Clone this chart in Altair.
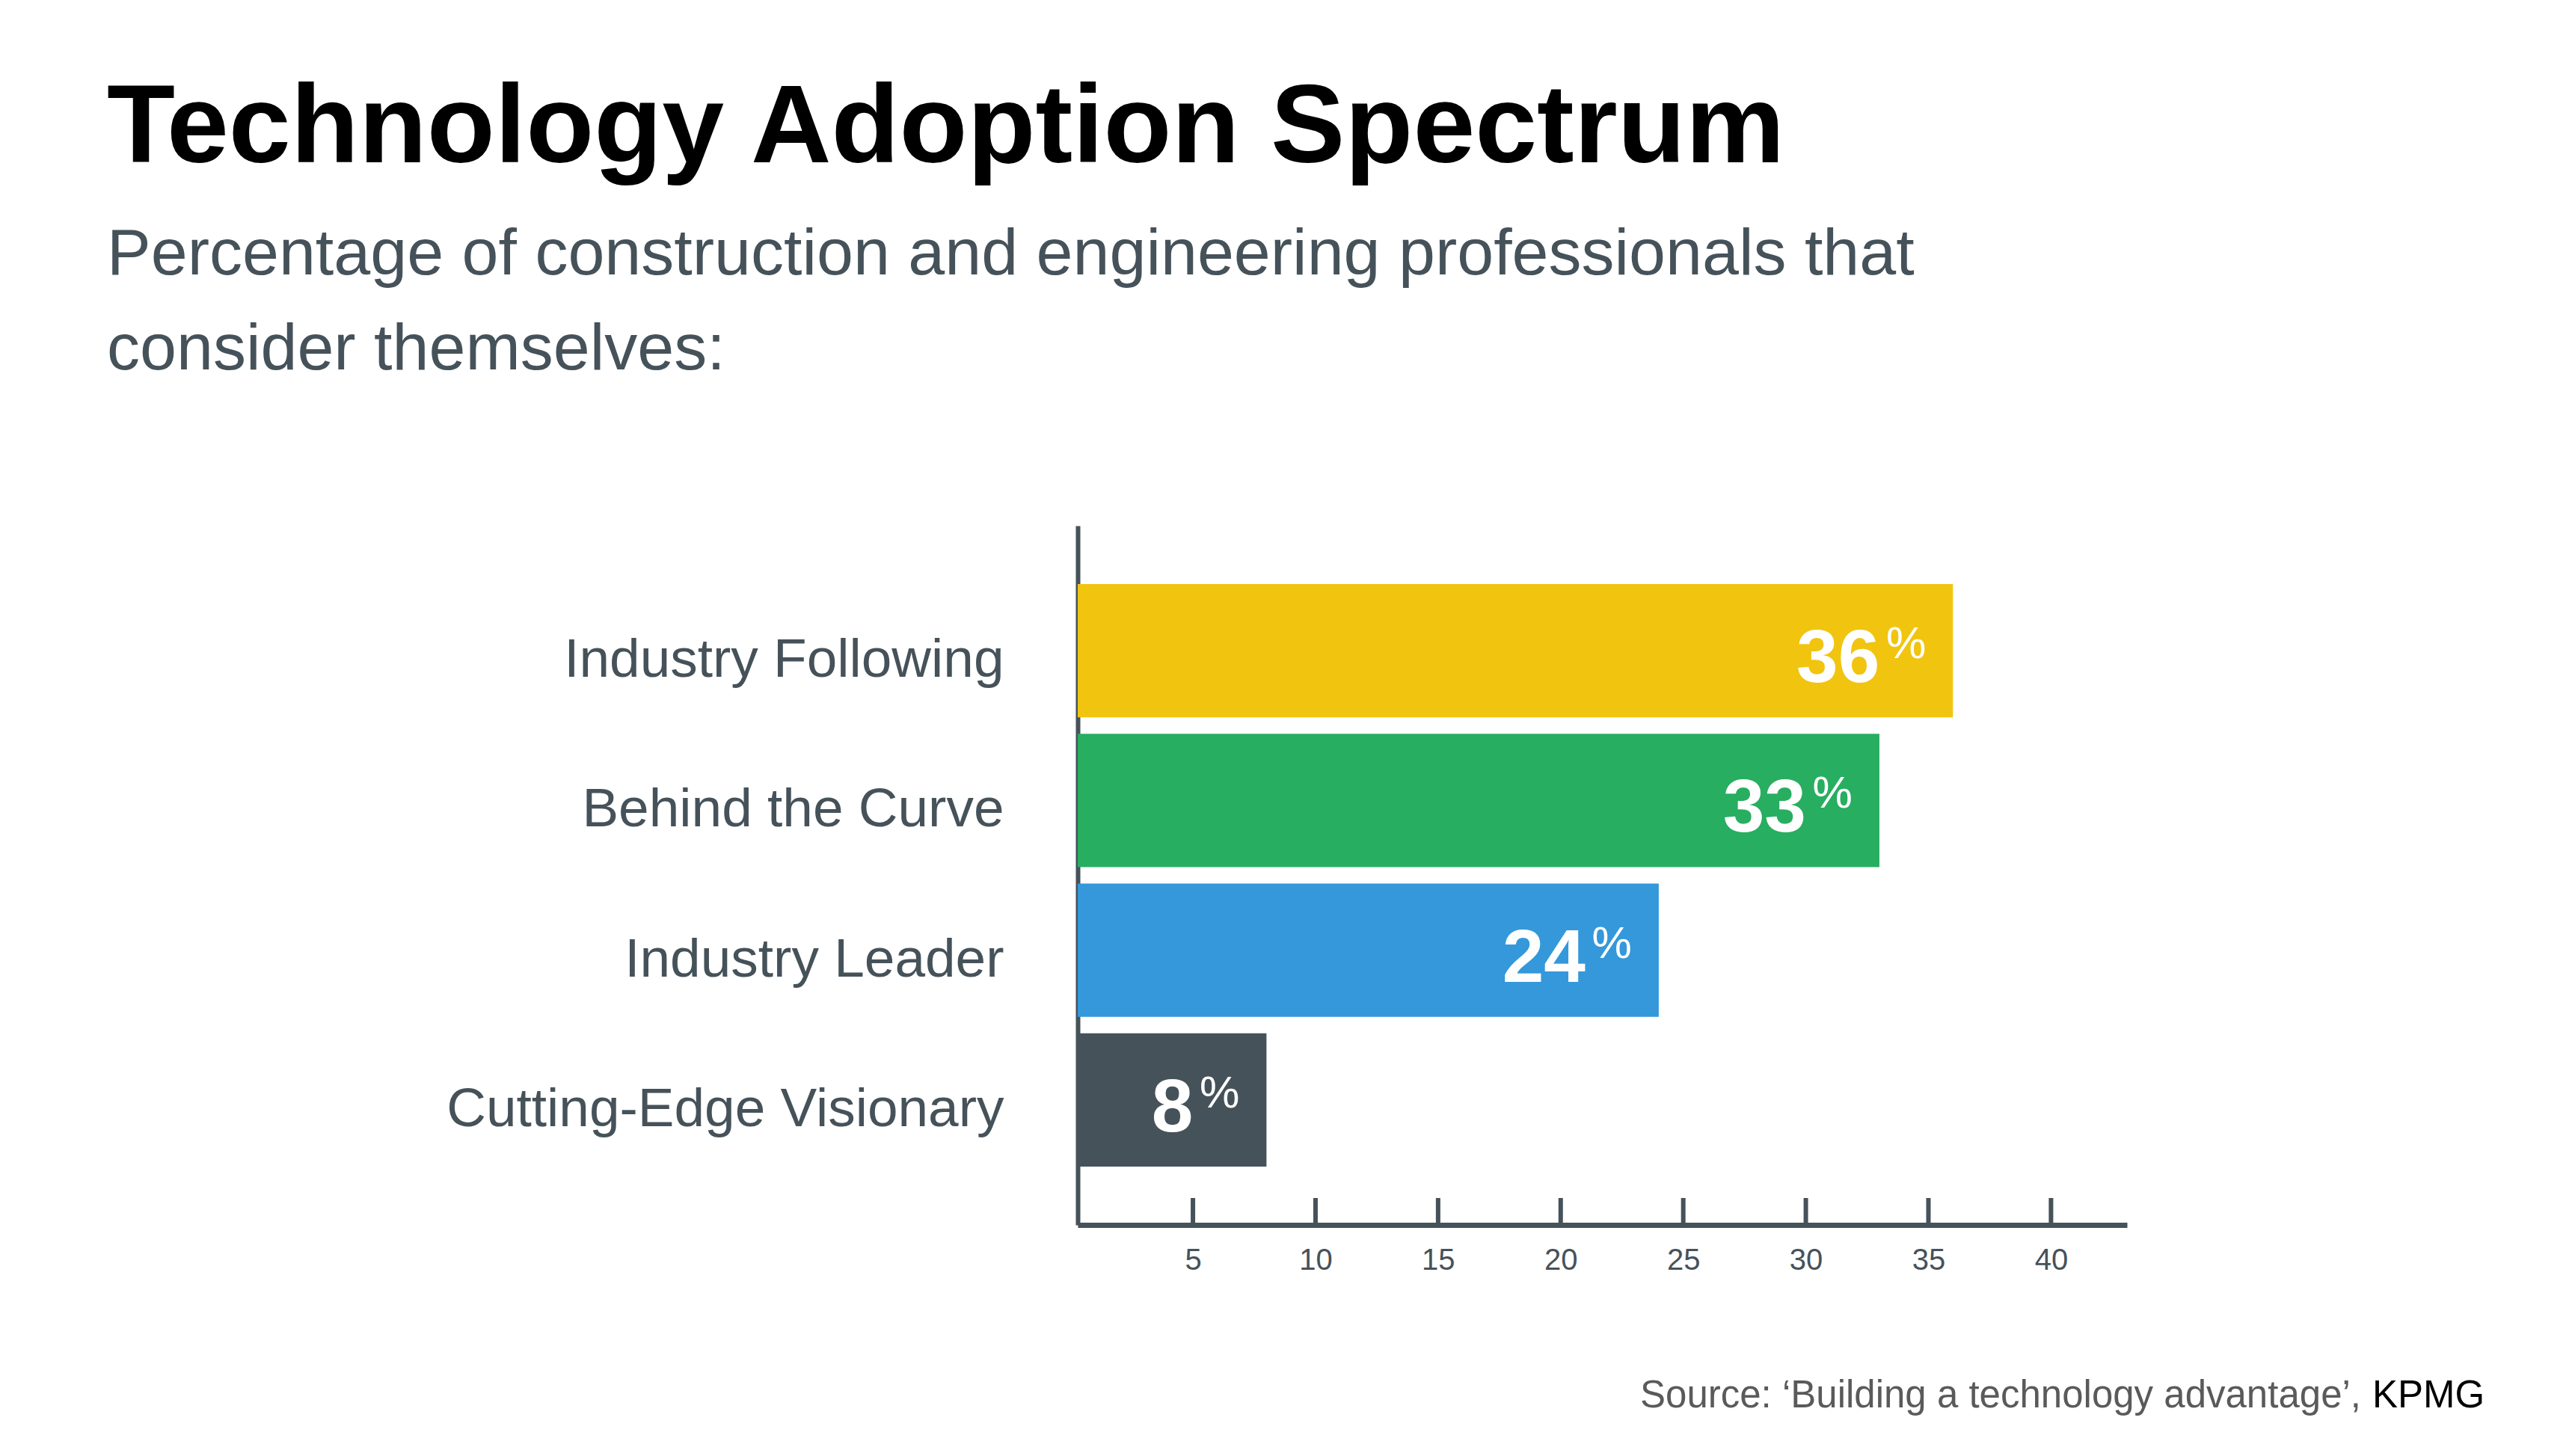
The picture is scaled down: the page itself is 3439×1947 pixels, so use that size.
import altair as alt
import pandas as pd

CATEGORIES = ["Industry Following", "Behind the Curve", "Industry Leader", "Cutting-Edge Visionary"]
VALUES = [36, 33, 24, 8]
COLORS = ["#F1C40F", "#27AE60", "#3498DB", "#46525A"]
TICKS = [5, 10, 15, 20, 25, 30, 35, 40]
TITLE = "Technology Adoption Spectrum"
SUBTITLE = ["Percentage of construction and engineering professionals that", "consider themselves:"]
SOURCE = "Source: \u2018Building a technology advantage\u2019,"
SOURCE_ORG = "KPMG"

df = pd.DataFrame({"category": CATEGORIES, "value": VALUES})
df["label"] = df["value"].astype(str)
df["pct"] = "%"
ticks_df = pd.DataFrame({"value": TICKS})
src_df = pd.DataFrame({"s": [SOURCE], "o": [SOURCE_ORG]})

W, H = 1403, 935
DARK = "#46525A"
FONT = "Liberation Sans"

xscale = alt.Scale(domain=[0.3, 43.1], nice=False, zero=False)
yscale = alt.Scale(paddingInner=0.11, paddingOuter=0.39)

bars = alt.Chart(df).mark_bar(clip=True).encode(
    x=alt.X("value:Q", scale=xscale,
            axis=alt.Axis(title=None, values=TICKS, ticks=False, grid=False,
                          domainColor=DARK, domainWidth=7, labelFont=FONT,
                          labelFontSize=40, labelColor=DARK, labelPadding=27)),
    y=alt.Y("category:N", sort=CATEGORIES, scale=yscale,
            axis=alt.Axis(title=None, ticks=False, domainColor=DARK, domainWidth=6,
                          labelFont=FONT, labelFontSize=73, labelColor=DARK,
                          labelPadding=99, labelLimit=1200, labelOffset=13)),
    color=alt.Color("category:N", scale=alt.Scale(domain=CATEGORIES, range=COLORS), legend=None),
)

nums = alt.Chart(df).mark_text(
    align="right", baseline="alphabetic", dx=-98, dy=42, font=FONT,
    fontSize=100, fontWeight="bold", color="white"
).encode(
    x=alt.X("value:Q", scale=xscale),
    y=alt.Y("category:N", sort=CATEGORIES, scale=yscale),
    text="label:N",
)

pcts = alt.Chart(df).mark_text(
    align="right", baseline="alphabetic", dx=-36, dy=10, font=FONT,
    fontSize=60, color="white"
).encode(
    x=alt.X("value:Q", scale=xscale),
    y=alt.Y("category:N", sort=CATEGORIES, scale=yscale),
    text="pct:N",
)

ticks = alt.Chart(ticks_df).mark_rule(color=DARK, strokeWidth=6).encode(
    x=alt.X("value:Q", scale=xscale),
    y=alt.value(H),
    y2=alt.value(H - 36),
)

src = alt.Chart(src_df).mark_text(
    align="right", baseline="alphabetic", font=FONT, fontSize=51, color="#5A5A5A"
).encode(x=alt.value(1716), y=alt.value(1179), text="s:N")

org = alt.Chart(src_df).mark_text(
    align="left", baseline="alphabetic", font=FONT, fontSize=51, color="black"
).encode(x=alt.value(1731), y=alt.value(1179), text="o:N")

chart = alt.layer(bars, nums, pcts, ticks, src, org).properties(
    width=W,
    height=H,
    title=alt.TitleParams(
        text=TITLE, subtitle=SUBTITLE, anchor="start", frame="group",
        dx=-1298, offset=190, font=FONT, fontSize=149, fontWeight="bold",
        color="black", subtitleFont=FONT, subtitleFontSize=88,
        subtitleColor=DARK, subtitleLineHeight=127, subtitlePadding=49,
    ),
    autosize=alt.AutoSizeParams(type="none"),
    padding={"left": 1433, "top": 695, "right": 587, "bottom": 290},
    background="white",
).configure_view(stroke=None)

chart.save("out.html", embed_options={"renderer": "svg", "actions": False})
